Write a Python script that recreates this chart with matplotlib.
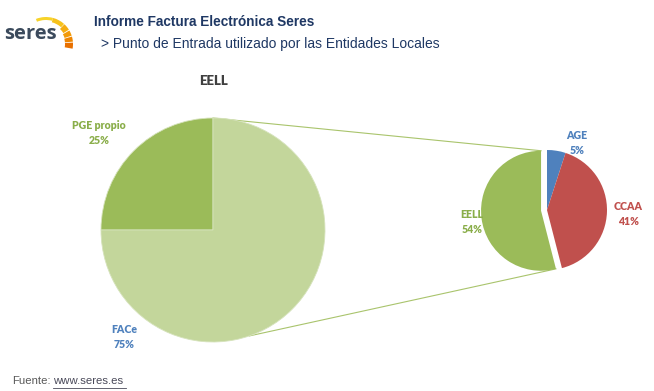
import numpy as np
import matplotlib
matplotlib.use("Agg")
import matplotlib.pyplot as plt
from matplotlib.patches import Wedge

# data
main_labels = ["PGE propio", "FACe"]
main_values = [25, 75]
main_colors = ["#9BBB59", "#C3D69B"]

sub_labels = ["AGE", "CCAA", "EELL"]
sub_values = [5, 41, 54]
sub_colors = ["#4F81BD", "#C0504D", "#9BBB59"]

W, H = 654, 391


def Y(y):
    # image pixel row -> data y
    return H - y


fig = plt.figure(figsize=(W / 100, H / 100), dpi=100)
ax = fig.add_axes([0, 0, 1, 1])

# big pie
big_c, big_r = (213, Y(230)), 112
big_w, _ = ax.pie(main_values, colors=main_colors, startangle=90, counterclock=True,
                  center=big_c, radius=big_r, frame=True,
                  wedgeprops=dict(edgecolor="#D6E3BC", linewidth=0.6))

# small pie, EELL pulled out
sub_c, sub_r = (547, Y(210)), 60
sub_w, _ = ax.pie(sub_values, colors=sub_colors, startangle=90, counterclock=False,
                  center=sub_c, radius=sub_r, explode=[0, 0, 6], frame=True,
                  wedgeprops=dict(linewidth=0))
ax.set_xlim(0, W)
ax.set_ylim(0, H)
ax.set_aspect("equal")
ax.axis("off")

# connector lines
ew = sub_w[2]
ecx, ecy = ew.center
t_hi, t_lo = np.radians(ew.theta1), np.radians(ew.theta2)  # theta1 = top (90), theta2 = bottom
p_top = (ecx + ew.r * np.cos(t_hi), ecy + ew.r * np.sin(t_hi))
p_bot = (ecx + ew.r * np.cos(t_lo), ecy + ew.r * np.sin(t_lo))
b_top = (big_c[0], big_c[1] + big_r)
a = np.radians(-71)
b_bot = (big_c[0] + big_r * np.cos(a), big_c[1] + big_r * np.sin(a))
ax.plot([b_top[0], p_top[0]], [b_top[1], p_top[1]], color="#A9C46C", lw=0.8, zorder=0)
ax.plot([b_bot[0], p_bot[0]], [b_bot[1], p_bot[1]], color="#A9C46C", lw=0.8, zorder=0)

# data labels
lab = dict(family="Lato", fontweight="heavy", fontsize=7.6, ha="center", va="center",
           linespacing=1.35)
ax.text(99, Y(133), f"{main_labels[0]}\n{main_values[0]}%", color="#8AAE4A", **lab)
ax.text(124, Y(337), f"{main_labels[1]}\n{main_values[1]}%", color="#4F81BD", **lab)
ax.text(577, Y(143), f"{sub_labels[0]}\n{sub_values[0]}%", color="#4F81BD", **lab)
ax.text(628, Y(214), f"{sub_labels[1]}\n{sub_values[1]}%", color="#C0504D", **lab)
ax.text(472, Y(222), f"{sub_labels[2]}\n{sub_values[2]}%", color="#8AAE4A", **lab)

ax.text(213, Y(81), "EELL", family="Lato", fontweight="heavy", fontsize=9.5,
        color="#404040", ha="center", va="center")

# header
ax.text(94, Y(22), "Informe Factura Electrónica Seres", family="Liberation Sans",
        fontweight="bold", fontsize=9.8, color="#1F3864", ha="left", va="center")
ax.text(101, Y(44), "> Punto de Entrada utilizado por las Entidades Locales",
        family="Liberation Sans", fontsize=10, color="#1F3864", ha="left", va="center")

# logo
ax.text(4, Y(34), "seres", family="Open Sans", fontweight="bold", fontsize=14.5,
        color="#3B4A5C", ha="left", va="center")
lc = (46, Y(44))
segs = [(75, 112, 3, "#F7D32A"), (48, 75, 4.5, "#F6C21C"), (32, 47, 6.5, "#F5AD10"),
        (18, 30, 7.5, "#F29A08"), (5, 16, 8, "#EE8500"), (-10, 3, 8, "#E87000")]
for t1, t2, wd, col in segs:
    ax.add_patch(Wedge(lc, 27, t1, t2, width=wd, facecolor=col, edgecolor="none"))

# footer
ax.text(12, Y(381), "Fuente:", family="Liberation Sans", fontsize=8.2,
        color="#595959", ha="left", va="center")
ax.text(53, Y(381), "www.seres.es", family="Liberation Sans", fontsize=8.2,
        color="#4A4A5A", ha="left", va="center")
ax.plot([53, 126], [Y(388), Y(388)], color="#4A4A5A", lw=0.6)

fig.savefig("out.png", dpi=100)
